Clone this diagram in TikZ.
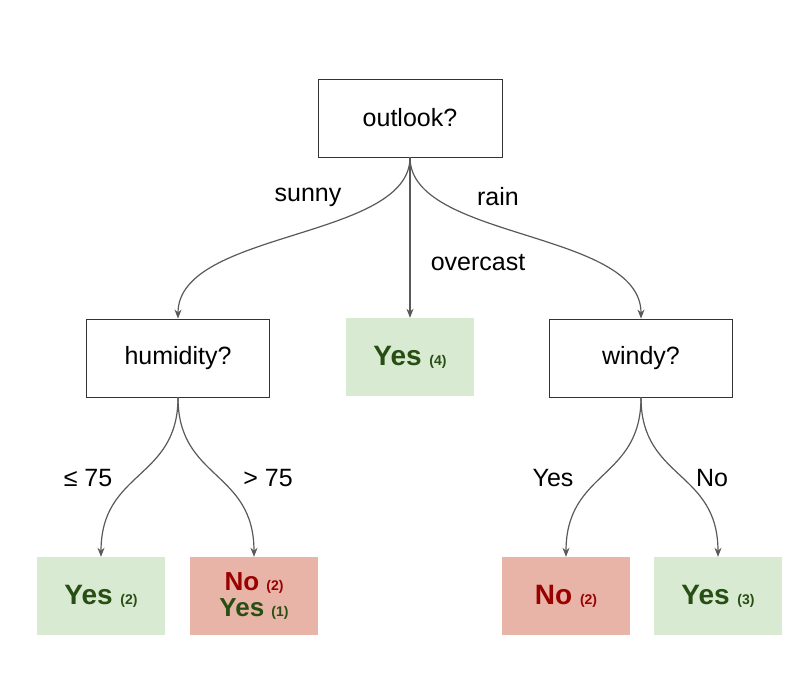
\documentclass[tikz,border=0pt]{standalone}
\usepackage{fontspec}
\setmainfont{Liberation Sans}
\usetikzlibrary{arrows.meta}
\definecolor{gfill}{HTML}{D9EAD3}
\definecolor{rfill}{HTML}{E8B4A8}
\definecolor{gtext}{HTML}{274E13}
\definecolor{rtext}{HTML}{990000}
\newcommand\cntf[1]{{\fontsize{14}{16}\selectfont #1}}
\begin{document}
\begin{tikzpicture}[x=1pt,y=-1pt,
  q/.style={draw=black!80,line width=0.8pt,minimum width=183pt,minimum height=78pt,font=\fontsize{25}{30}\selectfont},
  leafg/.style={fill=gfill,minimum width=128pt,minimum height=78pt,text=gtext,font=\fontsize{28}{32}\selectfont\bfseries,align=center},
  leafr/.style={fill=rfill,minimum width=128pt,minimum height=78pt,text=rtext,font=\fontsize{28}{32}\selectfont\bfseries,align=center},
  ed/.style={draw=black!65,line width=1.2pt,-{Stealth[length=9pt,width=7pt]}},
  lab/.style={font=\fontsize{25}{30}\selectfont}]
\useasboundingbox (0,0) rectangle (793,698);
\node[q,minimum width=184pt] (o) at (410,118) {outlook?};
\node[q] (h) at (178,358) {humidity?};
\node[leafg] (y4) at (410,357) {Yes \cntf{(4)}};
\node[q] (w) at (641,358) {windy?};
\node[leafg] (y2) at (101,596) {Yes \cntf{(2)}};
\node[leafr,font=\fontsize{26}{28}\selectfont\bfseries] (ny) at (254,596) {No \cntf{(2)}\\[-2pt]\textcolor{gtext}{Yes \cntf{(1)}}};
\node[leafr] (n2) at (566,596) {No \cntf{(2)}};
\node[leafg] (y3) at (718,596) {Yes \cntf{(3)}};
\draw[ed] (o.south) .. controls (410,240) and (178,230) .. (h.north);
\draw[ed] (o.south) -- (y4.north);
\draw[ed] (o.south) .. controls (410,240) and (641,230) .. (w.north);
\draw[ed] (h.south) .. controls (178,480) and (101,470) .. (y2.north);
\draw[ed] (h.south) .. controls (178,480) and (254,470) .. (ny.north);
\draw[ed] (w.south) .. controls (641,480) and (566,470) .. (n2.north);
\draw[ed] (w.south) .. controls (641,480) and (718,470) .. (y3.north);
\node[lab] (l1) at (308,197) {sunny};
\node[lab] (l2) at (478,263) {overcast};
\node[lab] (l3) at (498,197) {rain};
\node[lab] (l4) at (88,478) {≤ 75};
\node[lab] (l5) at (268,478) {> 75};
\node[lab] (l6) at (553,478) {Yes};
\node[lab] (l7) at (712,478) {No};
\end{tikzpicture}
\end{document}
